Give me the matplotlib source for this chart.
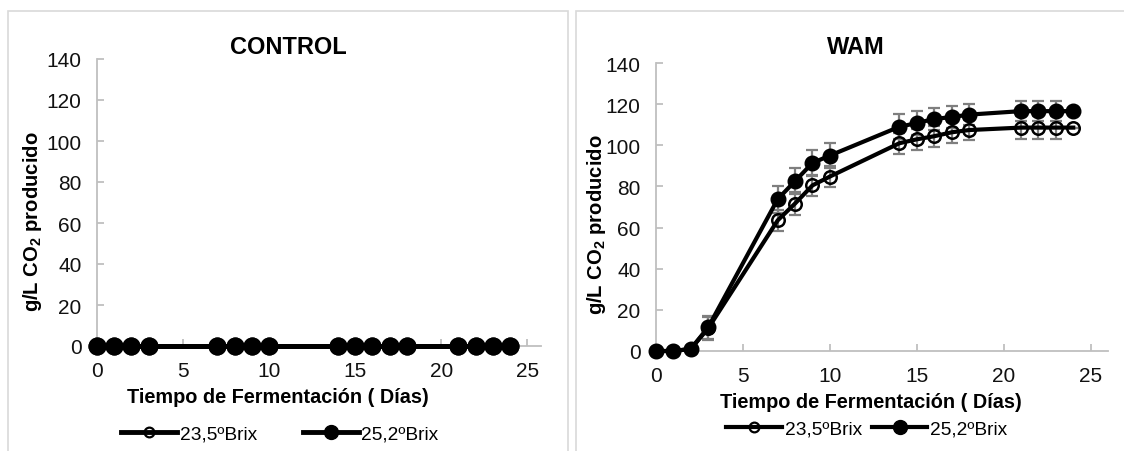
import numpy as np
import matplotlib
matplotlib.use("Agg")
import matplotlib.pyplot as plt
from matplotlib.lines import Line2D
from matplotlib.patches import Rectangle

plt.rcParams['font.family'] = ['Liberation Sans', 'DejaVu Sans']
plt.rcParams['mathtext.fontset'] = 'custom'
plt.rcParams['mathtext.bf'] = 'Liberation Sans:bold'
plt.rcParams['mathtext.rm'] = 'Liberation Sans'

# dias de fermentacion
dias = [0, 1, 2, 3, 7, 8, 9, 10, 14, 15, 16, 17, 18, 21, 22, 23, 24]

# CONTROL: sin produccion de CO2
control_235 = [0] * 17
control_252 = [0] * 17

# WAM
wam_235 = [0, 0, 1, 11, 63.5, 71.7, 80.5, 84.8, 101, 102.9, 104.4, 106.3, 107.4, 108.6, 108.6, 108.6, 108.6]
wam_252 = [0, 0, 1, 11.5, 73.8, 82.6, 91.4, 95, 109, 110.8, 112.8, 113.7, 114.9, 116.6, 116.6, 116.6, 116.6]
err_235 = [0, 0, 0, 5.5, 5, 5.7, 5.2, 5.2, 5, 5, 5, 5, 5, 5.5, 5.5, 5.5, 0]
err_252 = [0, 0, 0, 5.6, 6.5, 6.4, 6.5, 6, 6, 5.7, 5.3, 5.2, 5, 4.7, 4.7, 4.7, 0]

etiquetas = ['23,5ºBrix', '25,2ºBrix']
xticks = [0, 5, 10, 15, 20, 25]
yticks = [0, 20, 40, 60, 80, 100, 120, 140]

W, H = 1124, 452
fig = plt.figure(figsize=(W / 100, H / 100), dpi=100)

def px(x0, y0, x1, y1):
    return [x0 / W, 1 - y1 / H, (x1 - x0) / W, (y1 - y0) / H]

# marcos de cada grafico
fig.add_artist(Rectangle((8 / W, -0.1), 560 / W, 1.1 - 12 / H, transform=fig.transFigure,
                         fill=False, ec='#d9d9d9', lw=1.2))
fig.add_artist(Rectangle((576 / W, -0.1), 0.6, 1.1 - 12 / H, transform=fig.transFigure,
                         fill=False, ec='#d9d9d9', lw=1.2))

ax1 = fig.add_axes(px(97, 60, 541, 347))
ax2 = fig.add_axes(px(656, 64, 1108, 352))

gris = '#bfbfbf'
for ax in (ax1, ax2):
    ax.set_xlim(0, 25.8)
    ax.set_ylim(0, 140)
    ax.set_xticks(xticks)
    ax.set_yticks(yticks)
    for s in ('top', 'right'):
        ax.spines[s].set_visible(False)
    for s in ('left', 'bottom'):
        ax.spines[s].set_color(gris)
        ax.spines[s].set_linewidth(1.3)
    ax.tick_params(direction='in', length=5, width=1.3, color=gris, labelsize=15,
                   pad=11, labelcolor='#111111')

ax2.set_xlim(0, 26)

# CONTROL
ax1.plot(dias, control_235, '-', color='black', lw=3.6, marker='o', ms=11,
         mfc='none', mec='black', mew=2, clip_on=False, zorder=3)
ax1.plot(dias, control_252, '-', color='black', lw=3.6, marker='o', ms=12,
         mfc='black', mec='black', clip_on=False, zorder=4)

# WAM
ax2.errorbar(dias, wam_235, yerr=err_235, fmt='none', ecolor='#7f7f7f', elinewidth=1.6,
             capsize=4, capthick=1.6, zorder=2, clip_on=False)
ax2.errorbar(dias, wam_252, yerr=err_252, fmt='none', ecolor='#7f7f7f', elinewidth=1.6,
             capsize=4, capthick=1.6, zorder=2, clip_on=False)
ax2.plot(dias, wam_235, '-', color='black', lw=3, marker='o', ms=9,
         mfc='none', mec='black', mew=1.8, clip_on=False, zorder=3)
ax2.plot(dias, wam_252, '-', color='black', lw=3, marker='o', ms=10.5,
         mfc='black', mec='black', clip_on=False, zorder=4)

# titulos y etiquetas
fig.text(288 / W, 1 - 47 / H, 'CONTROL', ha='center', va='center', fontsize=17, fontweight='bold')
fig.text(856 / W, 1 - 47 / H, 'WAM', ha='center', va='center', fontsize=17, fontweight='bold')
ylab = r'g/L CO$_\mathbf{2}$ producido'
fig.text(33 / W, 1 - 222 / H, ylab, rotation=90, ha='center', va='center', fontsize=14.6, fontweight='bold')
fig.text(596 / W, 1 - 225 / H, ylab, rotation=90, ha='center', va='center', fontsize=14.6, fontweight='bold')
xlab = 'Tiempo de Fermentación ( Días)'
fig.text(278 / W, 1 - 398 / H, xlab, ha='center', va='center', fontsize=14.3, fontweight='bold')
fig.text(871 / W, 1 - 403 / H, xlab, ha='center', va='center', fontsize=14.3, fontweight='bold')

def handles(lw):
    return [Line2D([], [], color='black', lw=lw, marker='o', ms=7, mfc='none', mew=1.6),
            Line2D([], [], color='black', lw=lw, marker='o', ms=10, mfc='black')]

fig.legend(handles(3.5), etiquetas, loc='center', bbox_to_anchor=(280 / W, 1 - 435 / H), ncol=2,
           frameon=False, fontsize=13.8, handlelength=2.9, handletextpad=0.15, columnspacing=2.4)
fig.legend(handles(3), etiquetas, loc='center', bbox_to_anchor=(867 / W, 1 - 430 / H), ncol=2,
           frameon=False, fontsize=13.8, handlelength=2.9, handletextpad=0.15, columnspacing=0.5)

fig.savefig('out.png', dpi=100)
